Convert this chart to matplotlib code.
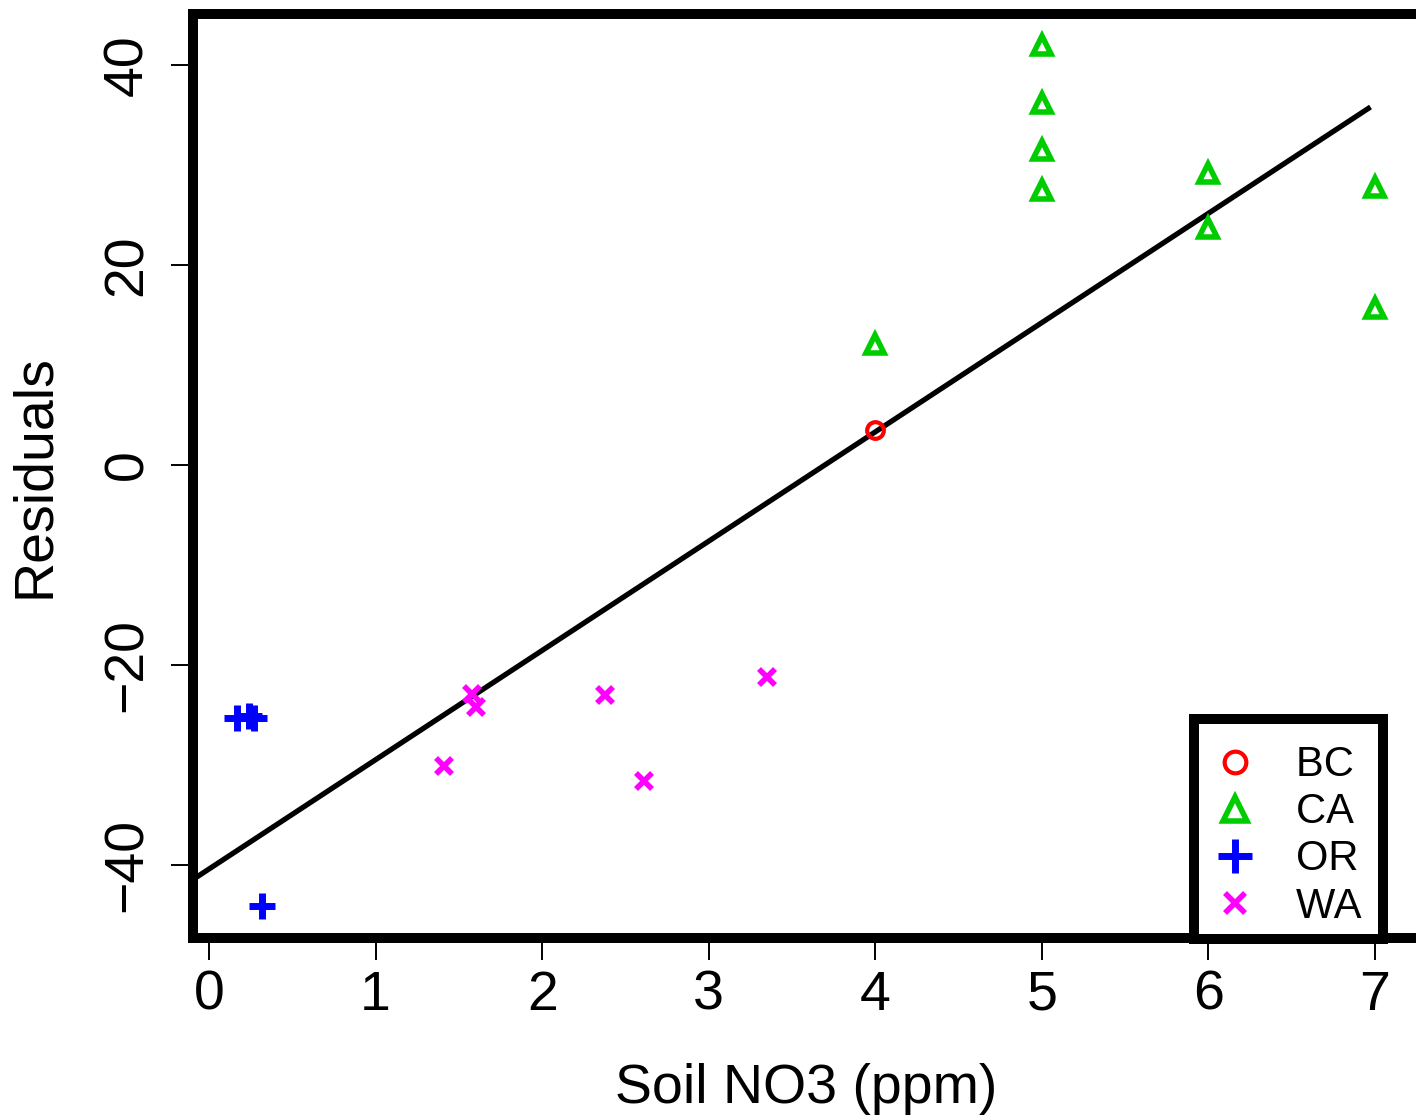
import matplotlib
matplotlib.use("Agg")
import matplotlib.pyplot as plt
from matplotlib.transforms import IdentityTransform
import numpy as np

plt.rcParams['font.family'] = ['Liberation Sans', 'DejaVu Sans']

# residuals by state
bc_x = [4.0]
bc_y = [3.5]
ca_x = [4.0, 5.0, 5.0, 5.0, 5.0, 6.0, 6.0, 7.0, 7.0]
ca_y = [12.1, 42.0, 36.2, 31.5, 27.5, 29.2, 23.7, 27.8, 15.7]
or_x = [0.17, 0.24, 0.27, 0.32]
or_y = [-25.3, -25.1, -25.3, -44.2]
wa_x = [1.41, 1.58, 1.60, 2.38, 2.61, 3.35]
wa_y = [-30.1, -22.9, -24.2, -23.0, -31.6, -21.2]

# fitted line
fit_intercept = -40.45
fit_slope = 10.94
fit_x = np.array([-0.5, 6.96])

fig = plt.figure(figsize=(14.16, 11.17), dpi=100)
ax = fig.add_axes([0.1363, 0.1603, 0.8665, 0.8272])

ax.plot(fit_x, fit_intercept + fit_slope * fit_x, color='black', lw=3.8, zorder=2)

# trailing space only widens the legend's right margin, like R's box
ax.plot(bc_x, bc_y, 'o', ms=12, mfc='none', mec='#FF0000', mew=3, label='BC ', zorder=3)
ax.plot(ca_x, ca_y, '^', ms=13.5, mfc='none', mec='#00CD00', mew=4, label='CA ', zorder=3)
ax.plot(or_x, or_y, '+', ms=19, mec='#0000FF', mew=5, label='OR ', zorder=3)
ax.plot(wa_x, wa_y, 'x', ms=11, mec='#FF00FF', mew=4, label='WA ', zorder=3)

ax.set_xlim(-0.096, 7.27)
ax.set_ylim(-47.35, 45.15)
ax.set_xticks(range(0, 8))
ax.set_yticks([-40, -20, 0, 20, 40])

for s in ax.spines.values():
    s.set_linewidth(7.2)
ax.tick_params(axis='both', length=16, width=1.4, labelsize=40)
ax.tick_params(axis='x', pad=7)
ax.tick_params(axis='y', pad=12, labelrotation=90)
for t in ax.get_yticklabels():
    t.set_va('center')

ax.set_xlabel('Soil NO3 (ppm)', fontsize=40)
ax.set_ylabel('Residuals', fontsize=40)
ax.xaxis.set_label_coords(0.5, -0.164)
ax.xaxis.label.set_va('center')
ax.yaxis.set_label_coords(-0.1288, 0.5)
ax.yaxis.label.set_va('center')

leg = ax.legend(loc='lower right', fontsize=30, frameon=True, fancybox=False,
                framealpha=1, borderaxespad=0, borderpad=0.3, handlelength=1.4,
                handletextpad=0.75, labelspacing=0.17, markerscale=1.3,
                title=' ', title_fontsize=5)
leg.set_bbox_to_anchor((1383, 1117 - 939), transform=IdentityTransform())
leg.get_frame().set_linewidth(7.2)
leg.get_frame().set_edgecolor('black')

fig.savefig('out.png', dpi=100)
